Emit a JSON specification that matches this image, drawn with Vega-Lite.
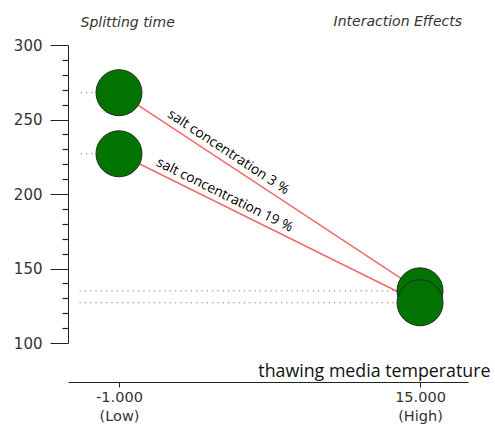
{
  "$schema": "https://vega.github.io/schema/vega-lite/v6.json",
  "width": 400,
  "height": 298,
  "autosize": {"type": "none"},
  "padding": {"left": 68, "top": 45, "right": 27, "bottom": 87},
  "background": "white",
  "title": {
    "text": "Interaction Effects",
    "anchor": "end",
    "frame": "group",
    "dx": -6,
    "dy": 25,
    "offset": 0,
    "baseline": "alphabetic",
    "font": "DejaVu Sans",
    "fontSize": 14,
    "fontStyle": "italic",
    "fontWeight": "normal",
    "color": "#333333"
  },
  "config": {"view": {"stroke": null}},
  "resolve": {"axis": {"y": "independent"}},
  "data": {
    "values": [
      {"salt": "salt concentration 3 %", "temp": -1, "time": 268},
      {"salt": "salt concentration 3 %", "temp": 15, "time": 135},
      {"salt": "salt concentration 19 %", "temp": -1, "time": 227},
      {"salt": "salt concentration 19 %", "temp": 15, "time": 127}
    ]
  },
  "layer": [
    {
      "mark": {"type": "line", "color": "#f06a6a", "strokeWidth": 1.5},
      "encoding": {
        "x": {
          "field": "temp",
          "type": "quantitative",
          "scale": {"domain": [-3.71, 17.55], "nice": false, "zero": false},
          "axis": {
            "offset": 39,
            "values": [-1, 15],
            "labelExpr": "datum.value < 0 ? ['-1.000', '(Low)'] : ['15.000', '(High)']",
            "grid": false,
            "domainColor": "#222222",
            "tickColor": "#222222",
            "tickSize": 5,
            "labelPadding": 3,
            "labelFont": "DejaVu Sans",
            "labelFontSize": 14.5,
            "labelColor": "#333333",
            "labelLineHeight": 19,
            "labelFlush": false,
            "labelOverlap": false,
            "title": "thawing media temperature",
            "titleX": 422,
            "titleY": -6,
            "titleAlign": "right",
            "titleBaseline": "alphabetic",
            "titleFont": "Open Sans",
            "titleFontSize": 17.8,
            "titleFontWeight": "normal",
            "titleColor": "#111111"
          }
        },
        "y": {
          "field": "time",
          "type": "quantitative",
          "scale": {"domain": [100, 300], "nice": false, "zero": false},
          "axis": {
            "orient": "left",
            "values": [100, 150, 200, 250, 300],
            "tickSize": 18,
            "grid": false,
            "domainColor": "#222222",
            "tickColor": "#222222",
            "labelPadding": 8,
            "labelOverlap": false,
            "labelFont": "DejaVu Sans",
            "labelFontSize": 15,
            "labelColor": "#333333",
            "title": "Splitting time",
            "titleAngle": 0,
            "titleX": 12,
            "titleY": -19,
            "titleAlign": "left",
            "titleBaseline": "alphabetic",
            "titleFont": "DejaVu Sans",
            "titleFontSize": 14,
            "titleFontStyle": "italic",
            "titleFontWeight": "normal",
            "titleColor": "#333333"
          }
        },
        "detail": {"field": "salt"}
      }
    },
    {
      "mark": {"type": "rule", "color": "#7a7a7a", "strokeWidth": 1, "strokeDash": [1.2, 4.1]},
      "encoding": {
        "x": {"field": "temp", "type": "quantitative"},
        "x2": {"datum": -3.25},
        "y": {
          "field": "time",
          "type": "quantitative",
          "axis": {
            "orient": "left",
            "values": [110, 120, 130, 140, 160, 170, 180, 190, 210, 220, 230, 240, 260, 270, 280, 290],
            "tickSize": 6,
            "tickColor": "#222222",
            "tickWidth": 1.2,
            "labels": false,
            "domain": false,
            "grid": false,
            "title": null
          }
        }
      }
    },
    {
      "mark": {"type": "circle", "size": 2116, "fill": "#007300", "stroke": "#1e2e1e", "strokeWidth": 1, "opacity": 1},
      "encoding": {
        "x": {"field": "temp", "type": "quantitative"},
        "y": {"field": "time", "type": "quantitative", "axis": null}
      }
    },
    {
      "transform": [{"filter": "datum.temp === -1 && datum.salt === 'salt concentration 3 %'"}],
      "mark": {"type": "text", "angle": 33.4, "align": "center", "baseline": "middle", "dx": 124, "dy": -10.5, "font": "Open Sans", "fontSize": 13.8, "color": "#000000"},
      "encoding": {
        "x": {"field": "temp", "type": "quantitative"},
        "y": {"field": "time", "type": "quantitative", "axis": null},
        "text": {"field": "salt"}
      }
    },
    {
      "transform": [{"filter": "datum.temp === -1 && datum.salt === 'salt concentration 19 %'"}],
      "mark": {"type": "text", "angle": 26.4, "align": "center", "baseline": "middle", "dx": 113, "dy": -10, "font": "Open Sans", "fontSize": 13.8, "color": "#000000"},
      "encoding": {
        "x": {"field": "temp", "type": "quantitative"},
        "y": {"field": "time", "type": "quantitative", "axis": null},
        "text": {"field": "salt"}
      }
    }
  ]
}
